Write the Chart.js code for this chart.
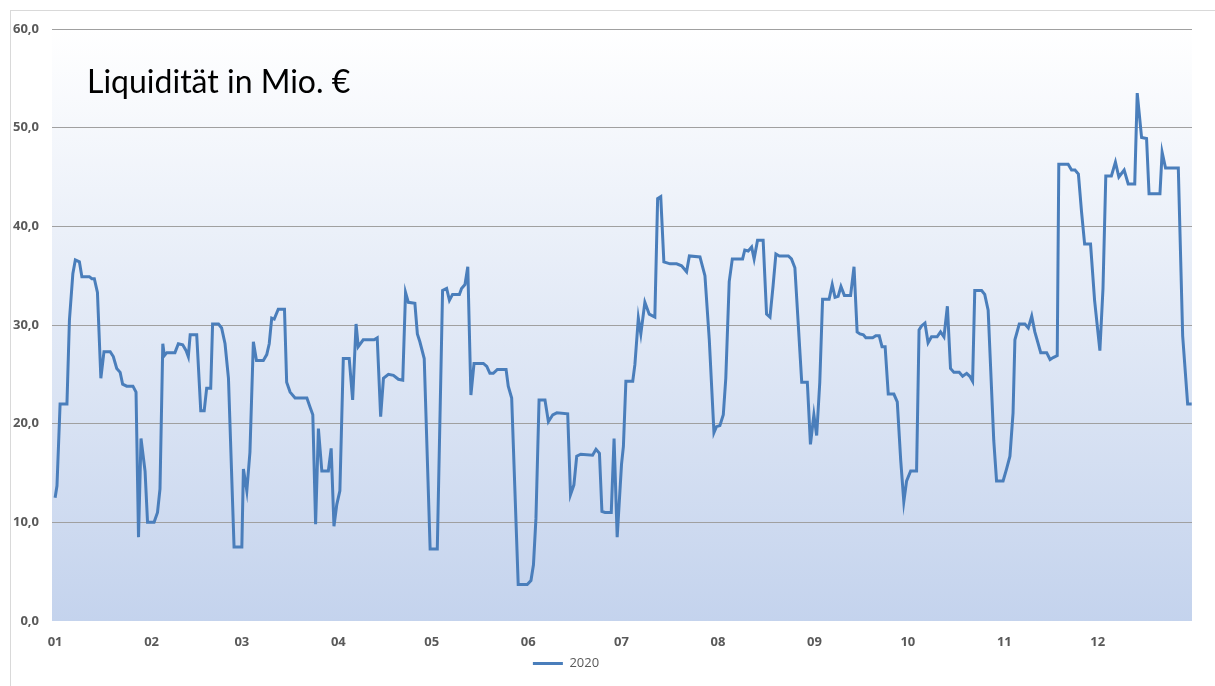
<!DOCTYPE html>
<html>
<head>
<meta charset="utf-8">
<script src="https://cdn.jsdelivr.net/npm/chart.js@4.4.1/dist/chart.umd.min.js"></script>
<style>
  html, body { margin: 0; padding: 0; background: #fff; }
  #wrap { position: relative; width: 1215px; height: 686px; }
</style>
</head>
<body>
<div id="wrap"><canvas id="chart"></canvas></div>
<script>
// Liquidity 2020 (Mio. EUR): day of year -> value
const days = [
  0, 0.6, 1.6, 3.8, 4.6, 5.7, 6.5, 7.8, 8.6, 11, 11.8, 12.6, 13.6, 14.7, 15.7, 17.7, 18.7, 19.8, 20.9, 21.7,
  23, 25, 26, 26.8, 27.6, 28.9, 29.7, 31.8, 32.9, 33.7, 34.6, 35.1, 35.9, 38.5, 39.6, 41, 42.1, 42.8, 43.4, 45.5,
  46.8, 47.9, 48.7, 50, 50.6, 52.5, 53.5, 54.6, 55.7, 57.5, 60, 60.5, 61.6, 62.6, 63.7, 64.7, 66.9, 68, 68.8, 69.6,
  70.4, 71.7, 73.7, 74.4, 75.5, 77.1, 80.9, 81.9, 82.8, 83.7, 84.6, 85.7, 87.8, 88.7, 89.6, 90.5, 91.5, 92.6, 94.5, 95.6,
  96.7, 97.4, 99, 102.5, 103.5, 104.6, 105.5, 107.1, 108.7, 110.3, 111.7, 112.6, 113.5, 115.6, 116.4, 117.2, 118.6, 120.5, 122.8, 124.5,
  125.8, 126.7, 127.7, 129.9, 130.6, 131.7, 132.6, 133.6, 134.6, 137.6, 138.7, 139.7, 140.8, 142.1, 144.9, 145.6, 146.7, 148.8, 151.7, 152.9,
  153.7, 154.5, 155.5, 157.4, 158.5, 159.9, 161.2, 164.7, 165.6, 166.7, 167.6, 168.9, 172.7, 173.8, 174.9, 175.7, 176.7, 178.7, 179.6, 180.6,
  182, 182.6, 183.4, 185.6, 186.3, 187.4, 188.2, 189.5, 190.9, 192.7, 193.6, 194.6, 195.6, 197.6, 199.7, 201.3, 202.9, 203.8, 207.2, 208.8,
  210.2, 211.7, 212.5, 213.6, 214.7, 215.5, 216.6, 217.6, 220.9, 221.6, 222.7, 223.8, 224.6, 225.7, 227.5, 228.6, 229.7, 230.7, 231.6, 232.7,
  235.6, 236.6, 237.7, 239.9, 241.7, 242.7, 243.8, 244.7, 245.7, 246.6, 248.7, 249.7, 250.6, 251.6, 252.5, 253.6, 255.6, 256.7, 257.7, 258.6,
  259.7, 260.5, 262.7, 263.7, 264.8, 265.7, 266.7, 267.7, 269.5, 270.6, 271.7, 272.7, 273.6, 274.9, 276.8, 277.6, 278.4, 279.5, 280.5, 281.6,
  283.4, 284.5, 285.6, 286.7, 287.7, 288.8, 290.5, 291.6, 292.9, 293.9, 294.8, 295.5, 297.7, 298.7, 299.8, 301.6, 302.5, 304.6, 305.7, 306.8,
  307.8, 308.4, 309.8, 311.6, 312.7, 313.8, 314.8, 316.7, 318.6, 319.7, 320.7, 322, 322.5, 325.5, 326.6, 327.7, 328.8, 329.8, 330.8, 332.7,
  334, 335.7, 336.7, 337.6, 339.4, 340.7, 341.8, 343.5, 344.8, 346.9, 347.7, 349.1, 350.7, 351.5, 355, 355.7, 356.8, 360.9, 362.3, 363.9,
  365.2
];
const liquidity = [
  12.5, 13.7, 22.0, 22.0, 30.5, 35.2, 36.6, 36.4, 34.9, 34.9, 34.7, 34.7, 33.3, 24.6, 27.3, 27.3, 26.8, 25.6, 25.2, 24.0,
  23.8, 23.8, 23.2, 8.5, 18.5, 15.2, 10.0, 10.0, 11.0, 13.4, 28.1, 26.9, 27.2, 27.2, 28.1, 28.0, 27.4, 26.8, 29.0, 29.0,
  21.3, 21.3, 23.6, 23.6, 30.1, 30.1, 29.7, 28.1, 24.6, 7.5, 7.5, 15.4, 13.2, 17.1, 28.3, 26.4, 26.4, 27.0, 28.1, 30.7,
  30.6, 31.6, 31.6, 24.2, 23.2, 22.6, 22.6, 21.7, 20.9, 9.8, 19.5, 15.2, 15.2, 17.5, 9.6, 11.8, 13.2, 26.6, 26.6, 22.4,
  30.1, 27.8, 28.5, 28.5, 28.7, 20.7, 24.6, 25.0, 24.9, 24.5, 24.4, 33.3, 32.3, 32.2, 29.1, 28.3, 26.6, 7.3, 7.3, 33.5,
  33.7, 32.5, 33.1, 33.1, 33.7, 34.1, 35.9, 22.9, 26.1, 26.1, 25.8, 25.1, 25.1, 25.5, 25.5, 23.8, 22.6, 3.7, 3.7, 4.1,
  5.7, 10.4, 22.4, 22.4, 20.2, 20.9, 21.1, 21.0, 12.8, 13.8, 16.7, 16.9, 16.8, 17.4, 17.0, 11.1, 11.0, 11.0, 18.5, 8.5,
  15.9, 17.7, 24.3, 24.3, 26.0, 30.7, 29.1, 32.3, 31.1, 30.8, 42.8, 43.0, 36.4, 36.2, 36.2, 36.0, 35.4, 37.0, 36.9, 35.0,
  28.5, 19.1, 19.7, 19.8, 20.9, 24.6, 34.4, 36.7, 36.7, 37.6, 37.5, 37.9, 36.7, 38.6, 38.6, 31.1, 30.8, 34.0, 37.2, 37.0,
  37.0, 36.7, 35.8, 24.2, 24.2, 17.9, 20.9, 18.8, 24.2, 32.6, 32.6, 34.1, 32.8, 32.9, 33.9, 33.0, 33.0, 35.9, 29.3, 29.1,
  29.0, 28.7, 28.7, 28.9, 28.9, 27.8, 27.8, 23.0, 23.0, 22.2, 16.3, 12.1, 14.2, 15.2, 15.2, 29.5, 29.9, 30.2, 28.2, 28.8,
  28.8, 29.3, 28.8, 31.9, 25.6, 25.2, 25.2, 24.8, 25.1, 24.8, 24.3, 33.5, 33.5, 33.1, 31.5, 18.3, 14.2, 14.2, 15.4, 16.7,
  21.1, 28.5, 30.1, 30.1, 29.7, 30.9, 29.3, 27.2, 27.2, 26.5, 26.7, 26.9, 46.3, 46.3, 45.7, 45.7, 45.3, 41.5, 38.2, 38.2,
  32.5, 27.4, 33.7, 45.1, 45.1, 46.5, 45.0, 45.7, 44.3, 44.3, 53.5, 49.0, 48.9, 43.3, 43.3, 47.5, 45.9, 45.9, 28.9, 22.0,
  22.0
];

// month starts (day of year) and their labels
const monthStarts = [0, 31, 60, 91, 121, 152, 182, 213, 244, 274, 305, 335];
const monthLabels = ['01', '02', '03', '04', '05', '06', '07', '08', '09', '10', '11', '12'];
const seriesName = '2020';
const titleText = 'Liquidität in Mio. €';

const lineColor = '#4a7ebb';
const labelColor = '#595959';

// white card with a thin grey frame, plus the vertical gradient of the plot area
const backdrop = {
    id: 'backdrop',
    beforeDraw(chart) {
        const { ctx, chartArea: a } = chart;
        ctx.save();
        ctx.fillStyle = '#fff';
        ctx.fillRect(0, 0, chart.width, chart.height);
        ctx.strokeStyle = '#d9d9d9';
        ctx.lineWidth = 1;
        ctx.strokeRect(10.5, 10.5, chart.width - 10, chart.height - 10);
        const g = ctx.createLinearGradient(0, a.top, 0, a.bottom);
        g.addColorStop(0, '#ffffff');
        g.addColorStop(1, '#c4d3ed');
        ctx.fillStyle = g;
        ctx.fillRect(a.left, a.top, a.right - a.left, a.bottom - a.top);
        ctx.restore();
    }
};

// the title sits inside the plot area, upper left
const innerTitle = {
    id: 'innerTitle',
    afterDraw(chart) {
        const { ctx, chartArea: a } = chart;
        ctx.save();
        ctx.fillStyle = '#000';
        ctx.font = '32px Lato';
        ctx.textBaseline = 'alphabetic';
        ctx.fillText(titleText, a.left + 35, a.top + 64);
        ctx.restore();
    }
};

// legend in the original sits a bit left of centre
const legendShift = {
    id: 'legendShift',
    afterLayout(chart) {
        if (chart.legend) {
            chart.legend.left -= 30;
            chart.legend.right -= 30;
        }
    }
};

const ctx = document.getElementById('chart').getContext('2d');
new Chart(ctx, {
    type: 'line',
    data: {
        datasets: [{
            label: seriesName,
            data: days.map((d, i) => ({ x: d, y: liquidity[i] })),
            borderColor: lineColor,
            backgroundColor: lineColor,
            borderWidth: 3,
            pointRadius: 0,
            tension: 0,
            fill: false
        }]
    },
    options: {
        responsive: true,
        maintainAspectRatio: false,
        animation: false,
        layout: { padding: { left: 0, right: 23, top: 29, bottom: 6 } },
        scales: {
            x: {
                type: 'linear',
                min: -1,
                max: 365.3,
                grid: { display: false, drawTicks: false },
                border: { display: false },
                afterBuildTicks(scale) {
                    scale.ticks = monthStarts.map(v => ({ value: v }));
                },
                afterFit(scale) { scale.height = 32; },
                ticks: {
                    autoSkip: false,
                    maxRotation: 0,
                    padding: 13,
                    color: labelColor,
                    font: { family: 'Open Sans', size: 13, weight: 'bold' },
                    callback: (v) => monthLabels[monthStarts.indexOf(v)]
                }
            },
            y: {
                min: 0,
                max: 60,
                afterFit(scale) { scale.width = 52; },
                border: { display: false },
                grid: {
                    drawTicks: false,
                    color: (c) => c.tick && c.tick.value === 0 ? 'rgba(0,0,0,0)' : '#a0a0a0',
                    lineWidth: 1
                },
                ticks: {
                    stepSize: 10,
                    padding: 13,
                    color: labelColor,
                    font: { family: 'Open Sans', size: 13, weight: 'bold' },
                    callback: (v) => v.toFixed(1).replace('.', ',')
                }
            }
        },
        plugins: {
            legend: {
                position: 'bottom',
                labels: {
                    usePointStyle: true,
                    pointStyle: 'line',
                    pointStyleWidth: 30,
                    boxHeight: 12,
                    padding: 4,
                    color: labelColor,
                    font: { family: 'Open Sans', size: 13 }
                }
            },
            tooltip: { enabled: false }
        }
    },
    plugins: [backdrop, innerTitle, legendShift]
});
</script>
</body>
</html>
